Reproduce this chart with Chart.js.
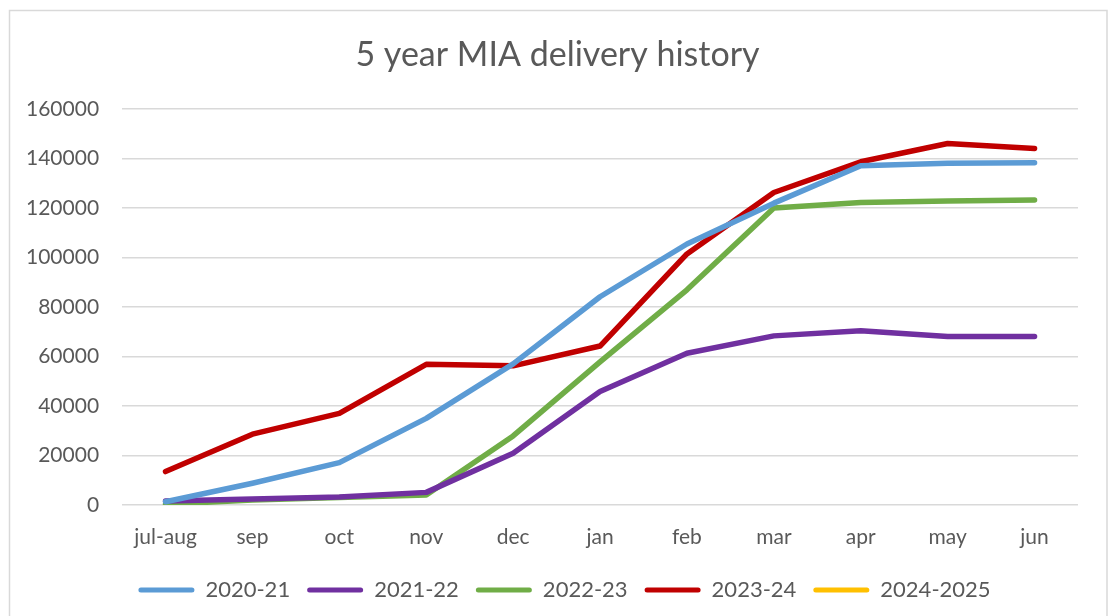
<!DOCTYPE html>
<html>
<head>
<meta charset="utf-8">
<script src="https://cdn.jsdelivr.net/npm/chart.js@4.4.1/dist/chart.umd.min.js"></script>
<style>
  html, body { margin: 0; padding: 0; background: #ffffff; }
  #wrap { position: relative; width: 1110px; height: 616px; }
  canvas { display: block; }
</style>
</head>
<body>
<div id="wrap"><canvas id="c" width="1110" height="616"></canvas></div>
<script>
const categories = ["jul-aug", "sep", "oct", "nov", "dec", "jan", "feb", "mar", "apr", "may", "jun"];
const seriesNames = ["2020-21", "2021-22", "2022-23", "2023-24", "2024-2025"];
const s2020_21 = [1300, 8800, 17100, 35000, 57000, 84100, 105400, 121900, 137000, 138000, 138200];
const s2021_22 = [1600, 2400, 3200, 5100, 20900, 45800, 61300, 68300, 70400, 68000, 68000];
const s2022_23 = [300, 2000, 3000, 4000, 27900, 57800, 86900, 119900, 122200, 122800, 123200];
const s2023_24 = [13500, 28600, 37000, 56800, 56200, 64200, 101400, 126200, 138600, 146000, 144000];
const s2024_2025 = [];
const yTicks = [0, 20000, 40000, 60000, 80000, 100000, 120000, 140000, 160000];

const colors = ["#5B9BD5", "#7030A0", "#70AD47", "#C00000", "#FFC000"];
const values = [s2020_21, s2021_22, s2022_23, s2023_24, s2024_2025];

const FONT = "Lato";
const TXT = "#595959";

const borderPlugin = {
  id: "outerBorder",
  beforeDraw(chart) {
    const ctx = chart.ctx;
    ctx.save();
    ctx.fillStyle = "#ffffff";
    ctx.fillRect(0, 0, chart.width, chart.height);
    ctx.strokeStyle = "#d9d9d9";
    ctx.lineWidth = 1.5;
    ctx.beginPath();
    ctx.moveTo(9.5, 620);
    ctx.lineTo(9.5, 10.5);
    ctx.lineTo(1107, 10.5);
    ctx.lineTo(1107, 620);
    ctx.stroke();
    ctx.restore();
  }
};

// nudge title and legend blocks to sit where the reference has them
const nudgePlugin = {
  id: "nudge",
  afterLayout(chart) {
    const t = chart.titleBlock;
    if (t) { t.left += 17; t.right += 17; }
    const l = chart.legend;
    if (l) { l.left += 24; l.right += 24; l.top -= 7; l.bottom -= 7; }
  }
};

new Chart(document.getElementById("c"), {
  type: "line",
  data: {
    labels: categories,
    datasets: seriesNames.map((name, i) => ({
      label: name,
      data: values[i],
      borderColor: colors[i],
      backgroundColor: colors[i],
      borderWidth: 5.5,
      pointRadius: 0,
      pointHoverRadius: 0,
      tension: 0,
      fill: false,
      borderCapStyle: "round",
      borderJoinStyle: "round"
    }))
  },
  options: {
    responsive: false,
    animation: false,
    devicePixelRatio: 1,
    layout: { padding: { left: 3, right: 32, top: 0, bottom: -2 } },
    plugins: {
      tooltip: { enabled: false },
      title: {
        display: true,
        text: "5 year MIA delivery history",
        color: TXT,
        font: { family: FONT, size: 34, weight: "normal" },
        padding: { top: 35, bottom: 33 }
      },
      legend: {
        position: "bottom",
        labels: {
          color: TXT,
          font: { family: FONT, size: 22 },
          boxWidth: 56,
          boxHeight: 5,
          padding: 17,
          useBorderRadius: true,
          borderRadius: 2.5,
          generateLabels(chart) {
            return chart.data.datasets.map((ds, i) => ({
              text: ds.label,
              fillStyle: ds.borderColor,
              strokeStyle: ds.borderColor,
              lineWidth: 0,
              fontColor: TXT,
              hidden: false,
              borderRadius: 2.5,
              datasetIndex: i
            }));
          }
        }
      }
    },
    scales: {
      x: {
        offset: true,
        grid: { display: false, drawTicks: false },
        border: { display: false },
        ticks: { color: TXT, font: { family: FONT, size: 21, lineHeight: 1.2 }, padding: 19.4, maxRotation: 0, autoSkip: false }
      },
      y: {
        min: 0,
        max: 160000,
        afterBuildTicks(axis) { axis.ticks = yTicks.map(v => ({ value: v })); },
        grid: { color: "#d9d9d9", lineWidth: 1.5, drawTicks: false },
        border: { display: false },
        ticks: {
          color: TXT,
          font: { family: FONT, size: 21 },
          padding: 23,
          callback: v => String(v)
        }
      }
    }
  },
  plugins: [borderPlugin, nudgePlugin]
});
</script>
</body>
</html>
